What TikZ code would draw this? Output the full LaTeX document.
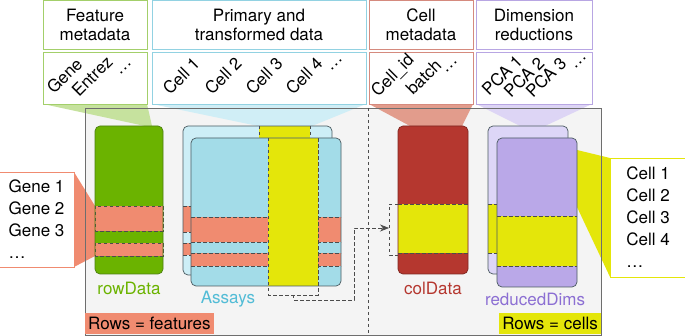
\documentclass[tikz,border=0pt]{standalone}
\usepackage{fontspec}
\setmainfont{TeX Gyre Heros}
\usetikzlibrary{arrows.meta,calc}

\definecolor{greenB}{HTML}{A3CF6A}
\definecolor{greenF}{HTML}{C6E29E}
\definecolor{greenO}{HTML}{6BB300}
\definecolor{greenD}{HTML}{4C7F12}
\definecolor{blueB}{HTML}{92D2E2}
\definecolor{blueF}{HTML}{D0EEF6}
\definecolor{blueO}{HTML}{A3DCE8}
\definecolor{blueBack}{HTML}{CDEEF6}
\definecolor{blueT}{HTML}{52BCD6}
\definecolor{redB}{HTML}{D58A7E}
\definecolor{redF}{HTML}{E29C8C}
\definecolor{redO}{HTML}{B5372F}
\definecolor{redD}{HTML}{7E2620}
\definecolor{purB}{HTML}{B8A6E3}
\definecolor{purF}{HTML}{DDD5F5}
\definecolor{purO}{HTML}{BAA8E8}
\definecolor{purBack}{HTML}{DDD6F7}
\definecolor{purT}{HTML}{8C6FD3}
\definecolor{salmon}{HTML}{F08B70}
\definecolor{yell}{HTML}{E4E60A}
\definecolor{panelF}{HTML}{F4F4F4}
\definecolor{panelB}{HTML}{6E6E6E}
\definecolor{edge}{HTML}{4A5A60}

\begin{document}
\begin{tikzpicture}[x=1pt,y=-1pt,
  font=\fontsize{17}{19.5}\selectfont,
  hdrbox/.style={draw=#1, line width=0.9pt, fill=white, minimum height=49pt, inner sep=0pt, align=center},
  subbox/.style={draw=#1, line width=0.9pt, fill=white, minimum height=52pt, inner sep=0pt},
  rotlbl/.style={anchor=base west, rotate=45, inner sep=0pt},
  dsh/.style={draw=black!70, dash pattern=on 3.5pt off 2.5pt, line width=0.6pt},
  matbox/.style={draw=#1, line width=0.7pt, rounded corners=5pt},
  listbox/.style={draw=#1, line width=0.9pt, fill=white, align=left, inner sep=0pt,
    font=\fontsize{17}{22}\selectfont},
  tag/.style={fill=#1, inner xsep=3pt, inner ysep=0pt, minimum height=21pt, anchor=south west}
]
\useasboundingbox (0,0) rectangle (685,336);

% central panel
\fill[panelF] (85,108) rectangle (601,335);

% funnels from the header boxes and side lists
\fill[greenF] (43,104) -- (147,104) -- (152,126) -- (145,126) -- cycle;
\fill[blueF] (152,104) -- (366,104) -- (312,126) -- (258,126) -- cycle;
\fill[redF] (369,104) -- (473,104) -- (462,126) -- (410,126) -- cycle;
\fill[purF] (476,104) -- (592,104) -- (545,126) -- (520,126) -- cycle;
\fill[salmon] (74,172) -- (95,206) -- (95,256) -- (74,267) -- cycle;
\fill[yell] (577,150) -- (610,158) -- (610,277) -- (577,207) -- cycle;

\draw[panelB, line width=0.8pt] (85,108) rectangle (601,335);
\draw[dsh] (368,108) -- (368,335);

% header boxes
\node[hdrbox=greenB, minimum width=104pt] (featT) at (95,25) {Feature\\metadata};
\node[subbox=greenB, minimum width=104pt] (featS) at (95,78) {};
\node[hdrbox=blueB, minimum width=214pt] (primT) at (259,25) {Primary and\\transformed data};
\node[subbox=blueB, minimum width=214pt] (primS) at (259,78) {};
\node[hdrbox=redB, minimum width=104pt] (cellT) at (421,25) {Cell\\metadata};
\node[subbox=redB, minimum width=104pt] (cellS) at (421,78) {};
\node[hdrbox=purB, minimum width=116pt] (dimT) at (534,25) {Dimension\\reductions};
\node[subbox=purB, minimum width=116pt] (dimS) at (534,78) {};

% rotated column labels
\node[rotlbl] (lGene) at (54,95) {Gene};
\node[rotlbl] (lEntrez) at (79,98) {Entrez};
\node[rotlbl] (lFdots) at (120,76) {\textellipsis};
\node[rotlbl] (lC1) at (170,96) {Cell 1};
\node[rotlbl] (lC2) at (212,96) {Cell 2};
\node[rotlbl] (lC3) at (253,96) {Cell 3};
\node[rotlbl] (lC4) at (293,96) {Cell 4};
\node[rotlbl] (lPdots) at (331,72) {\textellipsis};
\node[rotlbl] (lCid) at (378,98) {Cell\_id};
\node[rotlbl] (lBatch) at (413,96) {batch};
\node[rotlbl] (lCdots) at (446,74) {\textellipsis};
\node[rotlbl] (lPCA1) at (489,97) {PCA 1};
\node[rotlbl] (lPCA2) at (511,99) {PCA 2};
\node[rotlbl] (lPCA3) at (533,99) {PCA 3};
\node[rotlbl] (lDdots) at (575,70) {\textellipsis};

% side lists
\node[listbox=salmon, minimum width=75pt, minimum height=95pt] (genes) at (36.5,219.5)
  {Gene 1\\Gene 2\\Gene 3\\\textellipsis};
\node[listbox=yell, minimum width=76pt, minimum height=119pt] (cells) at (648,217.5)
  {Cell 1\\Cell 2\\Cell 3\\Cell 4\\\textellipsis};

% rowData
\fill[greenO, rounded corners=5pt] (95,126) rectangle (163,274);
\fill[salmon] (95,206) rectangle (163,231);
\fill[salmon] (95,243) rectangle (163,256);
\draw[dsh] (95,206) rectangle (163,231);
\draw[dsh] (95,243) rectangle (163,256);
\draw[matbox=greenD] (95,126) rectangle (163,274);

% assays: back layer
\fill[blueBack, rounded corners=5pt] (183,126) rectangle (332,275);
\fill[salmon] (183,206) rectangle (332,232);
\fill[salmon] (183,243) rectangle (332,255);
\draw[dsh] (183,206) -- (332,206) (183,232) -- (332,232) (183,243) -- (332,243) (183,255) -- (332,255);
\fill[yell] (259,126) rectangle (310,275);
\draw[dsh] (259,126) -- (259,275) (310,126) -- (310,275);
\draw[matbox=edge] (183,126) rectangle (332,275);

% assays: front layer
\fill[blueO, rounded corners=5pt] (191,138) rectangle (341,286);
\fill[salmon] (191,217) rectangle (341,242);
\fill[salmon] (191,253) rectangle (341,266);
\draw[dsh] (191,217) -- (341,217) (191,242) -- (341,242) (191,253) -- (341,253) (191,266) -- (341,266);
\fill[yell] (268,138) rectangle (318,286);
\draw[dsh] (268,138) -- (268,295) -- (318,295) -- (318,138);
\draw[matbox=edge] (191,138) rectangle (341,286);

% colData
\fill[redO, rounded corners=5pt] (398,126) rectangle (468,274);
\fill[yell] (398,204) rectangle (468,253);
\draw[dsh] (398,204) -- (468,204) (398,253) -- (468,253);
\draw[matbox=redD] (398,126) rectangle (468,274);
\draw[dsh] (398,204) -- (389,204) -- (389,255) -- (398,255);

% reducedDims: back and front layers
\fill[purBack, rounded corners=5pt] (488,126) rectangle (568,274);
\fill[yell] (488,204) rectangle (568,253);
\draw[dsh] (488,204) -- (568,204) (488,253) -- (568,253);
\draw[matbox=edge] (488,126) rectangle (568,274);
\fill[purO, rounded corners=5pt] (497,138) rectangle (577,287);
\fill[yell] (497,216) rectangle (577,266);
\draw[dsh] (497,216) -- (577,216) (497,266) -- (577,266);
\draw[matbox=edge] (497,138) rectangle (577,287);

% object names
\node[text=greenO] (nRow) at (129,288) {rowData};
\node[text=blueT] (nAssay) at (228,299) {Assays};
\node[text=redO] (nCol) at (433,288) {colData};
\node[text=purT] (nRed) at (535,299) {reducedDims};

\node[tag=salmon] (rowsF) at (85,334) {Rows = features};
\node[tag=yell, anchor=south east] (rowsC) at (601,334) {Rows = cells};

% column of the assay mapped to a row of colData
\coordinate (colfoot) at (293,295);
\coordinate (colin) at (389,228);
\draw[dsh, -{Stealth[length=9pt, width=7pt]}] (colfoot) -- ++(0,5) -| ($(colin)+(-35,0)$) -- (colin);
\end{tikzpicture}
\end{document}
